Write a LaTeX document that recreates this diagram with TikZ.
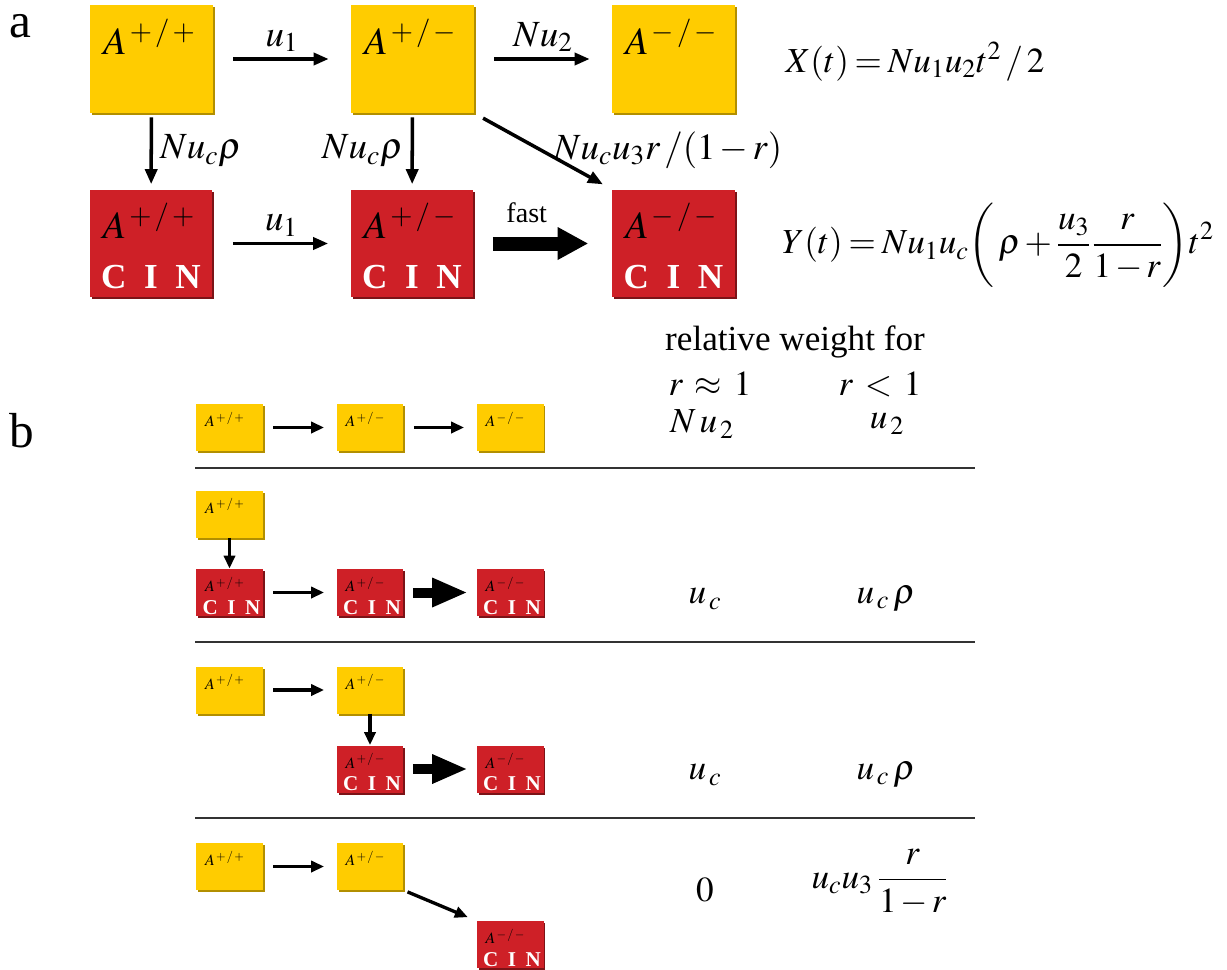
\documentclass[tikz,border=0pt]{standalone}
\usepackage{mathptmx}
\usepackage{fontspec}
\setmainfont{Liberation Serif}
\usetikzlibrary{arrows.meta,shadows}

\definecolor{geneyellow}{RGB}{255,204,0}
\definecolor{cinred}{RGB}{206,32,39}

\tikzset{
  ybig/.style={fill=geneyellow, minimum width=2.46cm, minimum height=2.16cm, inner sep=0,
    drop shadow={shadow xshift=0.04cm, shadow yshift=-0.04cm, fill=geneyellow!70!black, opacity=1}},
  rbig/.style={ybig, fill=cinred,
    drop shadow={shadow xshift=0.04cm, shadow yshift=-0.04cm, fill=cinred!60!black, opacity=1}},
  ysmall/.style={ybig, minimum width=1.34cm, minimum height=0.94cm},
  rsmall/.style={rbig, minimum width=1.34cm, minimum height=0.94cm},
  bigA/.style={label={[anchor=north west, inner sep=0, xshift=0.26cm, yshift=-0.28cm,
    font=\fontsize{22}{24}\selectfont]north west:$#1$}},
  smallA/.style={label={[anchor=north west, inner sep=0, xshift=0.18cm, yshift=-0.16cm,
    font=\fontsize{9}{10}\selectfont]north west:$#1$}},
  bigcin/.style={label={[anchor=south, inner sep=0, yshift=0.18cm, text=white,
    font=\bfseries\fontsize{20}{22}\selectfont]south:C\hspace{0.5em}I\hspace{0.5em}N}},
  smallcin/.style={label={[anchor=south, inner sep=0, yshift=0.03cm, xshift=0.04cm, text=white,
    font=\bfseries\fontsize{12}{14}\selectfont]south:C\hspace{0.45em}I\hspace{0.45em}N}},
  arr/.style={-{Triangle[length=0.3cm,width=0.24cm]}, line width=2pt},
  sarr/.style={-{Triangle[length=0.26cm,width=0.22cm]}, line width=1.9pt},
  fastarr/.style={-{Triangle[length=0.6cm,width=0.66cm,line width=0pt]}, line width=0.28cm},
  sfastarr/.style={-{Triangle[length=0.68cm,width=0.6cm,line width=0pt]}, line width=0.2cm},
  rate/.style={font=\fontsize{21}{23}\selectfont, inner sep=0},
  formula/.style={font=\fontsize{20}{22}\selectfont, inner sep=0},
  weight/.style={font=\fontsize{20}{22}\selectfont, inner sep=0},
  panel/.style={font=\fontsize{28}{30}\selectfont, anchor=base, inner sep=0},
  sep/.style={line width=1.1pt, black!80}
}

\begin{document}
\begin{tikzpicture}[x=0.02cm, y=-0.02cm]
\useasboundingbox (0,0) rectangle (1227,970);
\medmuskip=2mu \thickmuskip=3mu

% panel labels
\node[panel] (pa) at (20,37) {a};
\node[panel] (pb) at (22,447) {b};

% ---- a: wild type row
\node[ybig, bigA={A^{\,+\,/\,+}}] (ya1) at (151.5,59) {};
\node[ybig, bigA={A^{\,+\,/\,-}}] (ya2) at (412.5,59) {};
\node[ybig, bigA={A^{\,-\,/\,-}}] (ya3) at (673.5,59) {};

% ---- a: CIN row
\node[rbig, bigA={A^{\,+\,/\,+}}, bigcin] (ra1) at (151,243.5) {};
\node[rbig, bigA={A^{\,+\,/\,-}}, bigcin] (ra2) at (412,243.5) {};
\node[rbig, bigA={A^{\,-\,/\,-}}, bigcin] (ra3) at (673.5,243.5) {};

% rates
\draw[arr, shorten <=0.4cm, shorten >=0.44cm] (ya1) -- (ya2)
  node[rate, midway, above=3pt] (lu1) {$u_1$};
\draw[arr, shorten <=0.4cm, shorten >=0.44cm] (ya2) -- (ya3)
  node[rate, midway, above=3pt] (lnu2) {$Nu_2$};
\draw[arr, shorten <=0.08cm, shorten >=0.1cm] (ya1) -- (ra1)
  node[rate, midway, right=4pt] (lc1) {$Nu_c\rho$};
\draw[arr, shorten <=0.08cm, shorten >=0.1cm] (ya2) -- (ra2)
  node[rate, midway, left=4pt] (lc2) {$Nu_c\rho$};
\draw[arr, shorten <=0.2cm, shorten >=0.2cm] (ya2.south east) -- (ra3.north west);
\node[rate] (ldiag) at (668,150) {$Nu_cu_3r\,/(1-r)$};
\draw[arr, shorten <=0.4cm, shorten >=0.44cm] (ra1) -- (ra2)
  node[rate, midway, above=3pt] (lu1b) {$u_1$};
\draw[fastarr, shorten <=0.38cm, shorten >=0.48cm] (ra2) -- (ra3)
  node[midway, above=0.28cm, inner sep=0, xshift=-0.32cm, font=\fontsize{16}{18}\selectfont] (lfast) {fast};

% expectations
\node[formula] (xt) at (915,62) {$X(t)=Nu_1u_2t^2\,/\,2$};
\node[formula] (yt) at (998,245) {$\displaystyle Y(t)=Nu_1u_c\!\left(\,\rho+\frac{u_3}{2}\frac{r}{1-r}\right)\!t^2$};

% ---- b: header
\node[weight] (hw) at (795,342) {relative weight for};
\node[weight] (h1) at (710,384) {$r\;\approx\;1$};
\node[weight] (h2) at (880,384) {$r\;<\;1$};

% path 1
\node[ysmall, smallA={A^{\,+\,/\,+}}] (yb1) at (229.5,427.5) {};
\node[ysmall, smallA={A^{\,+\,/\,-}}] (yb2) at (370,427.5) {};
\node[ysmall, smallA={A^{\,-\,/\,-}}] (yb3) at (510,427.5) {};
\draw[sarr, shorten <=0.2cm, shorten >=0.24cm] (yb1) -- (yb2);
\draw[sarr, shorten <=0.2cm, shorten >=0.24cm] (yb2) -- (yb3);
\node[weight] (w11) at (702,424) {$N\,u_{\,2}$};
\node[weight] (w12) at (887,424) {$u_{\,2}$};
\draw[sep] (195,468) -- (975,468);

% path 2
\node[ysmall, smallA={A^{\,+\,/\,+}}] (yb4) at (229.5,514) {};
\node[rsmall, smallA={A^{\,+\,/\,+}}, smallcin] (rb1) at (229.5,592.5) {};
\node[rsmall, smallA={A^{\,+\,/\,-}}, smallcin] (rb2) at (370,592.5) {};
\node[rsmall, smallA={A^{\,-\,/\,-}}, smallcin] (rb3) at (510,592.5) {};
\draw[sarr] (yb4) -- (rb1);
\draw[sarr, shorten <=0.2cm, shorten >=0.24cm] (rb1) -- (rb2);
\draw[sfastarr, shorten <=0.18cm, shorten >=0.2cm] (rb2) -- (rb3);
\node[weight] (w21) at (705,599) {$u_{\,c}$};
\node[weight] (w22) at (886,599) {$u_{\,c}\,\rho$};
\draw[sep] (195,642) -- (975,642);

% path 3
\node[ysmall, smallA={A^{\,+\,/\,+}}] (yb5) at (229.5,690) {};
\node[ysmall, smallA={A^{\,+\,/\,-}}] (yb6) at (370,690) {};
\node[rsmall, smallA={A^{\,+\,/\,-}}, smallcin] (rb4) at (370,769) {};
\node[rsmall, smallA={A^{\,-\,/\,-}}, smallcin] (rb5) at (510,769) {};
\draw[sarr, shorten <=0.2cm, shorten >=0.24cm] (yb5) -- (yb6);
\draw[sarr] (yb6) -- (rb4);
\draw[sfastarr, shorten <=0.18cm, shorten >=0.2cm] (rb4) -- (rb5);
\node[weight] (w31) at (705,775) {$u_{\,c}$};
\node[weight] (w32) at (886,775) {$u_{\,c}\,\rho$};
\draw[sep] (195,818) -- (975,818);

% path 4
\node[ysmall, smallA={A^{\,+\,/\,+}}] (yb7) at (229.5,866.5) {};
\node[ysmall, smallA={A^{\,+\,/\,-}}] (yb8) at (370,866.5) {};
\node[rsmall, smallA={A^{\,-\,/\,-}}, smallcin] (rb6) at (510,944.5) {};
\draw[sarr, shorten <=0.2cm, shorten >=0.24cm] (yb7) -- (yb8);
\draw[sarr, shorten <=0.08cm, shorten >=0.18cm] (yb8.south east) -- (rb6.north west);
\node[weight] (w41) at (705,890) {$0$};
\node[weight] (w42) at (880,882) {$\displaystyle u_cu_3\,\frac{r}{1-r}$};

\end{tikzpicture}
\end{document}
